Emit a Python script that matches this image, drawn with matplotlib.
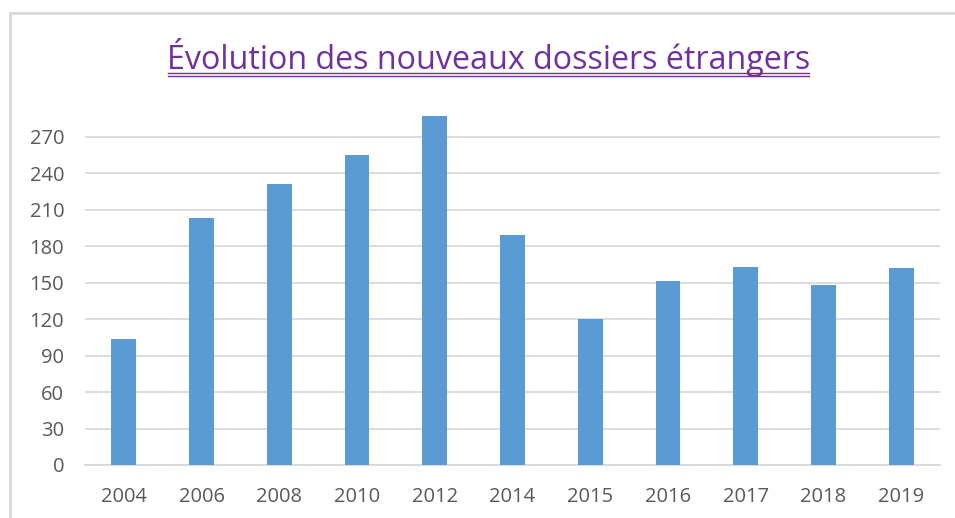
import matplotlib.pyplot as plt
from matplotlib.lines import Line2D

years = ['2004', '2006', '2008', '2010', '2012', '2014', '2015', '2016', '2017', '2018', '2019']
dossiers = [104, 203, 231, 255, 287, 189, 120, 151, 163, 148, 162]
yticks = [0, 30, 60, 90, 120, 150, 180, 210, 240, 270]

W, H = 955, 518
plt.rcParams['font.family'] = ['Open Sans', 'DejaVu Sans']

fig = plt.figure(figsize=(W / 100, H / 100), dpi=100)
ax = fig.add_axes([85 / W, 1 - 465 / H, 855 / W, 364.8 / H])

ax.bar(years, dossiers, width=0.32, color='#5B9BD5', zorder=3)
ax.set_xlim(-0.5, len(years) - 0.5)
ax.set_ylim(0, 300)
ax.set_yticks(yticks)
ax.grid(axis='y', color='#D9D9D9', linewidth=1.3, zorder=0)
for s in ['top', 'right', 'left']:
    ax.spines[s].set_visible(False)
ax.spines['bottom'].set_color('#D9D9D9')
ax.spines['bottom'].set_linewidth(1.3)
ax.tick_params(axis='both', length=0, labelsize=14.5, labelcolor='#595959')
ax.tick_params(axis='x', pad=16)
ax.tick_params(axis='y', pad=15)

# title with double underline
fig.text(489 / W, 1 - 69 / H, 'Évolution des nouveaux dossiers étrangers',
         ha='center', va='baseline', fontsize=23.2, color='#7030A0')
for yy in [72.5, 75.5]:
    fig.add_artist(Line2D([168 / W, 809 / W], [1 - yy / H] * 2, color='#7030A0', linewidth=1.0))

# chart frame (top and left edges)
fig.add_artist(Line2D([10 / W, 1], [1 - 13 / H] * 2, color='#D9D9D9', linewidth=2))
fig.add_artist(Line2D([10 / W, 10 / W], [0, 1 - 13 / H], color='#D9D9D9', linewidth=2))

fig.savefig('out.png', dpi=100)
